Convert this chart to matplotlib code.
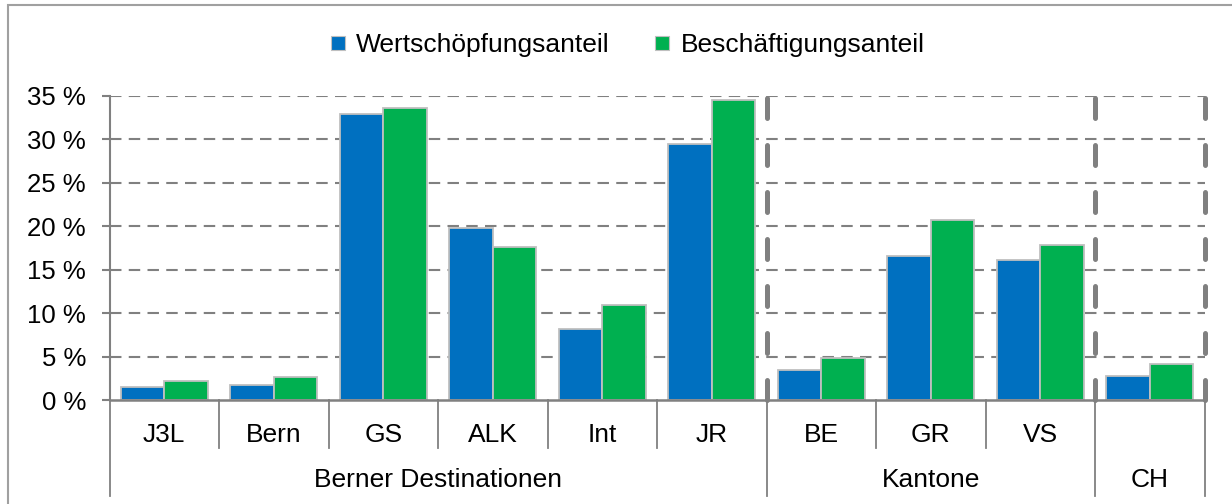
import matplotlib
matplotlib.use("Agg")
import matplotlib.pyplot as plt
import matplotlib.transforms as mtransforms
from matplotlib.lines import Line2D
from matplotlib.patches import Rectangle
import numpy as np

plt.rcParams['font.family'] = ['Liberation Sans', 'DejaVu Sans']

categories = ["J3L", "Bern", "GS", "ALK", "Int", "JR", "BE", "GR", "VS", "CH"]
cat_labels = ["J3L", "Bern", "GS", "ALK", "Int", "JR", "BE", "GR", "VS", ""]
groups = ["Berner Destinationen", "Kantone", "CH"]
group_sizes = [6, 3, 1]
wertschoepfung = [1.5, 1.7, 32.9, 19.8, 8.2, 29.4, 3.4, 16.6, 16.1, 2.8]
beschaeftigung = [2.2, 2.6, 33.6, 17.6, 10.9, 34.5, 4.8, 20.7, 17.8, 4.1]
yticks = [0, 5, 10, 15, 20, 25, 30, 35]
ytick_labels = ["0 %", "5 %", "10 %", "15 %", "20 %", "25 %", "30 %", "35 %"]
series_names = ["Wertschöpfungsanteil", "Beschäftigungsanteil"]

BLUE = "#0070C0"
GREEN = "#00B050"
GRAY = "#808080"
EDGE = "#BFBFBF"
FS = 19

W, H = 1232, 504
fig = plt.figure(figsize=(W / 100, H / 100), dpi=100)
ax = fig.add_axes([109.5 / W, 1 - 400 / H, (1204.5 - 109.5) / W, (400 - 95.7) / H])

x = np.arange(len(categories))
bw = 0.395
ax.bar(x - bw / 2, wertschoepfung, bw, color=BLUE, edgecolor=EDGE, linewidth=1.3, zorder=3)
ax.bar(x + bw / 2, beschaeftigung, bw, color=GREEN, edgecolor=EDGE, linewidth=1.3, zorder=3)

ax.set_xlim(-0.5, len(categories) - 0.5)
ax.set_ylim(0, 35)
ax.set_yticks(yticks)
ax.set_yticklabels(ytick_labels, fontsize=18.5)
ax.tick_params(axis='y', length=6, width=1.5, color=GRAY, pad=11)
ax.set_xticks([])

for s in ['top', 'right']:
    ax.spines[s].set_visible(False)
ax.spines['left'].set_color(GRAY)
ax.spines['left'].set_linewidth(1.5)
ax.spines['bottom'].set_color(GRAY)
ax.spines['bottom'].set_linewidth(1.8)
ax.spines['bottom'].set_zorder(4)

# horizontal dashed grid
for yv in yticks[1:]:
    ax.axhline(yv, color=GRAY, linewidth=1.5, linestyle=(0, (5.5, 3.5)), zorder=1)

# group boundaries
bounds = np.cumsum(group_sizes) - 0.5
for b in bounds:
    ax.plot([b, b], [0, 35], color=GRAY, linewidth=3.6, linestyle=(0, (4, 5.4)),
            dash_capstyle='round', solid_capstyle='round', zorder=5, clip_on=False)

trans = mtransforms.blended_transform_factory(ax.transData, ax.transAxes)
row1 = -48 / 304.3
row2 = -96 / 304.3
# category separators and labels
for i, lab in enumerate(cat_labels):
    ax.text(i, -35 / 304.3, lab, transform=trans, ha='center', va='center', fontsize=FS)
group_edges = [-0.5] + list(bounds)
for b in np.arange(-0.5, len(categories), 1.0):
    bottom = row2 if any(abs(b - g) < 1e-6 for g in group_edges) else row1
    ax.add_line(Line2D([b, b], [0, bottom], transform=trans, color=GRAY,
                       linewidth=1.3, clip_on=False))
# group labels
start = -0.5
for g, n in zip(groups, group_sizes):
    ax.text(start + n / 2, -80 / 304.3, g, transform=trans, ha='center', va='center', fontsize=FS)
    start += n

# legend
handles = [Line2D([], [], marker='s', linestyle='none', markersize=10, markerfacecolor=c,
                  markeredgecolor=EDGE, markeredgewidth=0.8) for c in (BLUE, GREEN)]
fig.legend(handles, series_names, loc='center', bbox_to_anchor=(626 / W, 1 - 45 / H),
           ncol=2, frameon=False, fontsize=FS, handlelength=0.8, handletextpad=0.3,
           columnspacing=1.6)

# outer frame
fig.patches.append(Rectangle((8 / W, -0.1), 1.2, 1 - 5 / H + 0.1, transform=fig.transFigure,
                             fill=False, edgecolor="#A0A0A0", linewidth=1.5))

fig.savefig("out.png", dpi=100)
